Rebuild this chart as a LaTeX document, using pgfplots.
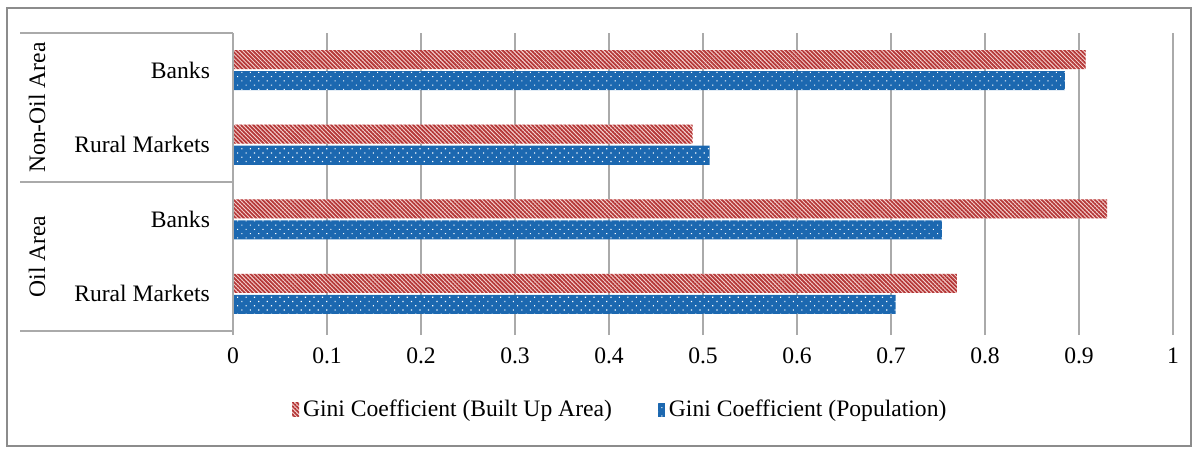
\documentclass[border=0pt]{standalone}
\usepackage{fontspec}
\setmainfont{Liberation Serif}
\usepackage{pgfplots}
\pgfplotsset{compat=1.18}
\usetikzlibrary{patterns.meta}

\definecolor{redS}{RGB}{180,55,55}
\definecolor{redBG}{RGB}{250,218,216}
\definecolor{blueB}{RGB}{28,104,176}
\definecolor{gridg}{RGB}{170,170,170}
\definecolor{frameg}{RGB}{140,140,140}
\newcommand{\fs}{\fontsize{11.8}{14}\selectfont}

\begin{document}
\begin{tikzpicture}[font=\fs]
\path[use as bounding box] (0pt,0pt) rectangle (599pt,225pt);
\draw[frameg, line width=0.8pt] (3.5pt,2pt) rectangle (595.5pt,221pt);
\begin{axis}[
  at={(116.5pt,59.5pt)}, anchor=south west,
  scale only axis, width=470pt, height=149pt,
  xbar, bar width=9.5pt,
  xmin=0, xmax=1, ymin=-0.5, ymax=3.5,
  xtick={0,0.1,0.2,0.3,0.4,0.5,0.6,0.7,0.8,0.9,1},
  xticklabel style={/pgf/number format/fixed, /pgf/number format/precision=1, yshift=-3pt},
  /pgf/number format/assume math mode=true,
  ytick={0,1,2,3},
  yticklabels={Rural Markets, Banks, Rural Markets, Banks},
  yticklabel style={xshift=-6pt},
  tick label style={font=\fs},
  axis line style={draw=none},
  xmajorgrids, grid style={gridg, line width=0.6pt},
  major tick length=2pt, tick align=outside, xtick pos=bottom,
  xtick style={gridg, line width=0.6pt},
  ytick style={draw=none},
  clip=false,
  legend style={at={(0.413,-0.265)}, anchor=center, draw=none, fill=none,
    legend columns=2, font=\fs,
    /tikz/every even column/.append style={column sep=21pt}},
  legend image code/.code={\draw[#1, draw=none] (0pt,-3.5pt) rectangle (3.5pt,3.5pt);},
]
\addplot[fill=redBG, draw=none, bar shift=5.25pt,
  postaction={pattern={Lines[angle=-45,distance=1.45pt,line width=0.9pt]}, pattern color=redS}]
  coordinates {(0.770,0) (0.930,1) (0.489,2) (0.907,3)};
\addplot[fill=blueB, draw=none, bar shift=-5.25pt,
  postaction={pattern={Dots[angle=45,distance=3pt,radius=0.4pt]}, pattern color=white}]
  coordinates {(0.705,0) (0.754,1) (0.507,2) (0.885,3)};
\legend{Gini Coefficient (Built Up Area), Gini Coefficient (Population)}
\draw[gridg, line width=0.6pt] (rel axis cs:0,0) -- (rel axis cs:0,1);
\draw[gridg, line width=0.6pt] (rel axis cs:-0.2266,1) -- (rel axis cs:0,1);
\draw[gridg, line width=0.6pt] (rel axis cs:-0.2266,0.5) -- (rel axis cs:0,0.5);
\draw[gridg, line width=0.6pt] (rel axis cs:-0.2266,0) -- (rel axis cs:0,0);
\node[rotate=90] at (rel axis cs:-0.2085,0.75) {Non-Oil Area};
\node[rotate=90] at (rel axis cs:-0.2085,0.25) {Oil Area};
\end{axis}
\end{tikzpicture}
\end{document}
